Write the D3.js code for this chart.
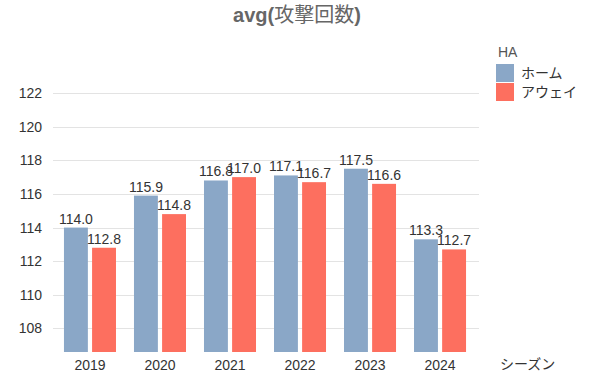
<!DOCTYPE html>
<html>
<head>
<meta charset="utf-8">
<script src="https://cdn.jsdelivr.net/npm/d3@7"></script>
<style>
  body { margin: 0; background: #fff; }
  text { font-family: "Liberation Sans", Arial, "Noto Sans CJK JP", sans-serif; }
</style>
</head>
<body>
<svg></svg>
<script>
// data
const seasons = ["2019", "2020", "2021", "2022", "2023", "2024"];
const seriesNames = ["ホーム", "アウェイ"];
const homeValues = [114.0, 115.9, 116.8, 117.1, 117.5, 113.3];
const awayValues = [112.8, 114.8, 117.0, 116.7, 116.6, 112.7];
const yTicks = [108, 110, 112, 114, 116, 118, 120, 122];
const colors = ["#8aa7c7", "#fd6f5f"];

const width = 594, height = 375;
const svg = d3.select("svg").attr("width", width).attr("height", height);

const margin = { top: 88, right: 115, bottom: 23, left: 53 };
const graphWidth = width - margin.left - margin.right;
const graphHeight = height - margin.top - margin.bottom;

const graph = svg.append("g")
  .attr("transform", `translate(${margin.left}, ${margin.top})`);

const x = d3.scaleBand()
  .domain(seasons)
  .range([2, graphWidth - 4])
  .paddingInner(0.257)
  .paddingOuter(0.128);

const xInner = d3.scaleBand()
  .domain(seriesNames)
  .range([0, x.bandwidth()])
  .paddingInner(0.15);

const y = d3.scaleLinear()
  .domain([106.6, 122.3])
  .range([graphHeight, 0]);

// gridlines
graph.append("g")
  .selectAll("line")
  .data(yTicks)
  .enter()
  .append("line")
  .attr("x1", 0)
  .attr("x2", graphWidth)
  .attr("y1", d => Math.round(y(d)) + 0.5)
  .attr("y2", d => Math.round(y(d)) + 0.5)
  .attr("stroke", "#e3e3e3")
  .attr("stroke-width", 1);

// y axis labels
const yAxis = d3.axisLeft(y).tickValues(yTicks).tickSize(0).tickPadding(11);
const yAxisGroup = graph.append("g").call(yAxis);
yAxisGroup.select(".domain").remove();
yAxisGroup.selectAll("text")
  .attr("font-size", 14)
  .attr("fill", "#333")
  .style("font-family", "'Liberation Sans', Arial, sans-serif");

// x axis labels
const xAxis = d3.axisBottom(x).tickSize(0).tickPadding(8);
const xAxisGroup = graph.append("g")
  .attr("transform", `translate(0, ${graphHeight})`)
  .call(xAxis);
xAxisGroup.select(".domain").remove();
xAxisGroup.selectAll("text")
  .attr("font-size", 14)
  .attr("fill", "#333")
  .style("font-family", "'Liberation Sans', Arial, sans-serif");

// bars
const rows = seasons.map((s, i) => ({
  season: s,
  values: [
    { name: seriesNames[0], value: homeValues[i], color: colors[0] },
    { name: seriesNames[1], value: awayValues[i], color: colors[1] }
  ]
}));

const groups = graph.selectAll(".group")
  .data(rows)
  .enter()
  .append("g")
  .attr("class", "group")
  .attr("transform", d => `translate(${x(d.season)}, 0)`);

groups.selectAll("rect")
  .data(d => d.values)
  .enter()
  .append("rect")
  .attr("x", d => xInner(d.name))
  .attr("width", xInner.bandwidth())
  .attr("y", d => y(d.value))
  .attr("height", d => graphHeight - y(d.value))
  .attr("fill", d => d.color);

groups.selectAll(".label")
  .data(d => d.values)
  .enter()
  .append("text")
  .attr("class", "label")
  .attr("x", d => xInner(d.name) + xInner.bandwidth() / 2)
  .attr("y", d => y(d.value) - 4)
  .attr("text-anchor", "middle")
  .attr("font-size", 14)
  .attr("fill", "#333")
  .text(d => d.value.toFixed(1));

// title: latin part bold, CJK part regular
const title = svg.append("text")
  .attr("x", 297)
  .attr("y", 22)
  .attr("text-anchor", "middle")
  .attr("font-size", 20)
  .attr("fill", "#666");
title.append("tspan").attr("font-weight", "bold").text("avg(");
title.append("tspan").text("攻撃回数");
title.append("tspan").attr("font-weight", "bold").text(")");

// x axis title
svg.append("text")
  .attr("x", 500)
  .attr("y", 369)
  .attr("font-size", 14)
  .attr("fill", "#333")
  .text("シーズン");

// legend
const legend = svg.append("g").attr("transform", "translate(496, 44)");
legend.append("text")
  .attr("x", 2)
  .attr("y", 13)
  .attr("font-size", 14)
  .attr("fill", "#555")
  .text("HA");

const items = legend.selectAll(".item")
  .data(seriesNames)
  .enter()
  .append("g")
  .attr("class", "item")
  .attr("transform", (d, i) => `translate(0, ${20 + i * 19})`);

items.append("rect")
  .attr("width", 18)
  .attr("height", 18)
  .attr("fill", (d, i) => colors[i]);

items.append("text")
  .attr("x", 25)
  .attr("y", 14)
  .attr("font-size", 14)
  .attr("fill", "#333")
  .text(d => d);
</script>
</body>
</html>
